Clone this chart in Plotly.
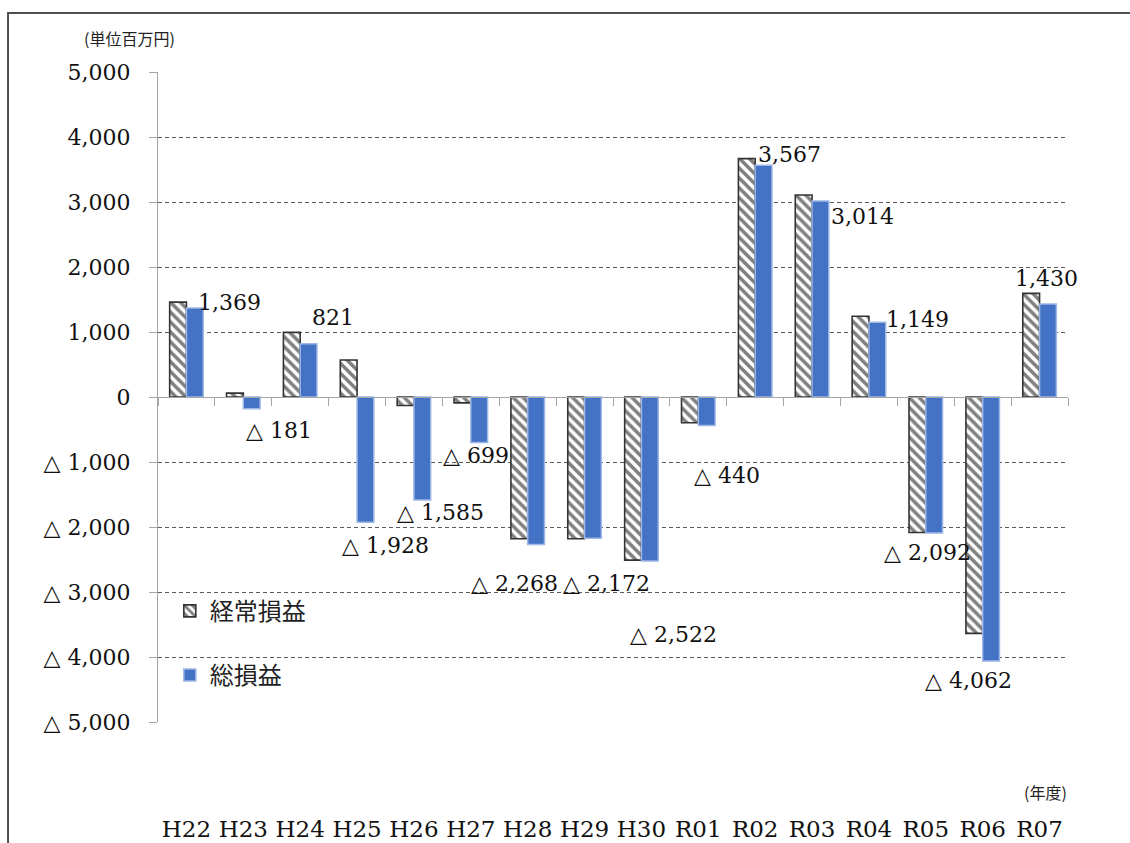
import plotly.graph_objects as go

# ---------------- data ----------------
years = ["H22", "H23", "H24", "H25", "H26", "H27", "H28", "H29",
         "H30", "R01", "R02", "R03", "R04", "R05", "R06", "R07"]
ordinary_profit = [1460, 60, 995, 570, -130, -90, -2180, -2180,
                   -2510, -395, 3667, 3108, 1242, -2085, -3636, 1595]
total_profit = [1369, -181, 821, -1928, -1585, -699, -2268, -2172,
                -2522, -440, 3567, 3014, 1149, -2092, -4062, 1430]
y_tickvals = [5000, 4000, 3000, 2000, 1000, 0, -1000, -2000, -3000, -4000, -5000]
y_ticktext = ["5,000", "4,000", "3,000", "2,000", "1,000", "0",
              "△ 1,000", "△ 2,000", "△ 3,000", "△ 4,000", "△ 5,000"]

# ---------------- label offsets (pixels, styling only) ----------------
label_xshift = [43, 36, 33, 28, 27, 5, -13, 22, 32, 29, 34, 50, 49, 2, -14, 7]
label_yshift = [6, -22, 26, -23, -12, -13, -39, -45, -74, -50, 11, -15, 3, -20, -19, 26]


def fmt(v):
    return f"{v:,}" if v >= 0 else f"△ {abs(v):,}"


SERIF = "'DejaVu Serif', serif"
CJK = "'Noto Sans CJK JP', sans-serif"

fig = go.Figure()
fig.add_trace(go.Bar(
    x=years, y=ordinary_profit, name="経常損益", legendgroup="a",
    marker=dict(color="white",
                pattern=dict(shape="\\", fgcolor="#000000", bgcolor="white",
                             size=7, solidity=0.5, fillmode="overlay"),
                line=dict(color="#333333", width=1.6)),
    hoverinfo="skip",
))
fig.add_trace(go.Bar(
    x=years, y=total_profit, name="総損益", legendgroup="b",
    marker=dict(color="#4472C4", line=dict(color="#9DB7E6", width=1.5)),
    hoverinfo="skip",
))
# helper trace that carries the zero-level category axis
fig.add_trace(go.Scatter(
    x=years, y=[0] * len(years), xaxis="x2", mode="markers",
    marker=dict(opacity=0), showlegend=False, hoverinfo="skip",
))

annotations = []
for yr, v, dx, dy in zip(years, total_profit, label_xshift, label_yshift):
    annotations.append(dict(
        x=yr, y=v, xref="x", yref="y", text=fmt(v), showarrow=False,
        xanchor="center", yanchor="middle", xshift=dx, yshift=dy,
        font=dict(family=SERIF, size=22, color="#111111"),
    ))
annotations.append(dict(
    x=-0.031, y=1.052, xref="paper", yref="paper", text="(単位百万円)",
    showarrow=False, xanchor="center", yanchor="middle",
    font=dict(family=CJK, size=16, color="#222222"),
))
annotations.append(dict(
    x=0.975, y=-0.108, xref="paper", yref="paper", text="(年度)",
    showarrow=False, xanchor="center", yanchor="middle",
    font=dict(family=CJK, size=16, color="#222222"),
))

fig.update_layout(
    width=1130, height=843,
    margin=dict(l=158, r=62, t=72, b=121),
    paper_bgcolor="white", plot_bgcolor="white",
    barmode="group", bargap=0.41, bargroupgap=0,
    showlegend=True,
    legend=dict(x=0.013, y=0.205, xanchor="left", yanchor="top",
                font=dict(family=CJK, size=24, color="#222222"),
                bgcolor="rgba(0,0,0,0)", traceorder="grouped",
                tracegroupgap=30),
    xaxis=dict(type="category", categoryorder="array", categoryarray=years,
               range=[-0.5, len(years) - 0.5], automargin=False,
               showgrid=False, showline=False, ticks="", zeroline=False,
               tickfont=dict(family=SERIF, size=23, color="#111111"),
               ticklabelstandoff=91),
    xaxis2=dict(type="category", categoryorder="array", categoryarray=years,
                overlaying="x", matches="x", anchor="free", position=0.5,
                automargin=False,
                showline=True, linecolor="#A6A6A6", linewidth=1.3,
                ticks="outside", tickson="boundaries", ticklen=8,
                tickcolor="#A6A6A6", tickwidth=1.3,
                showticklabels=False, showgrid=False, zeroline=False),
    yaxis=dict(range=[-5000, 5000], tickvals=y_tickvals, ticktext=y_ticktext,
               automargin=False,
               showgrid=True, gridcolor="#595959", griddash="4px,3px",
               gridwidth=1, zeroline=False,
               showline=True, linecolor="#A6A6A6", linewidth=1.3,
               ticks="outside", ticklen=8, tickcolor="#A6A6A6", tickwidth=1.3,
               tickfont=dict(family=SERIF, size=22, color="#111111"),
               ticklabelstandoff=14),
    annotations=annotations,
    shapes=[dict(type="rect", xref="paper", yref="paper",
                 x0=-0.1648, x1=1.2, y0=-0.4, y1=1.0908,
                 line=dict(color="#505050", width=2), layer="below")],
)

fig.write_html("out.html")
